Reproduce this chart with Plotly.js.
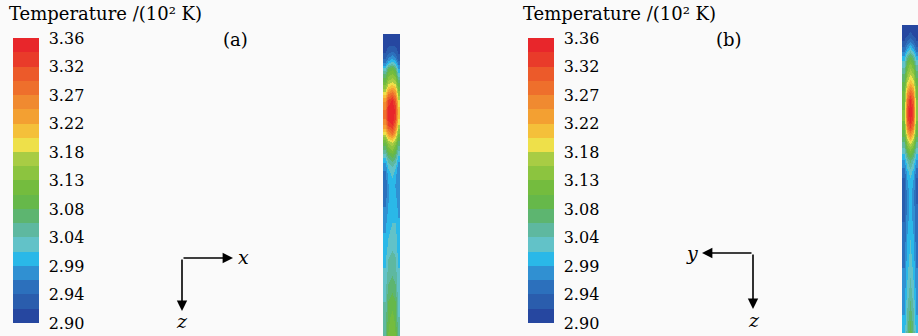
<!DOCTYPE html>
<html>
<head>
<meta charset="utf-8">
<script src="https://cdn.plot.ly/plotly-3.0.1.min.js"></script>
<style>html,body{margin:0;padding:0;background:#fafafa;}#chart{width:918px;height:336px;}</style>
</head>
<body>
<div id="chart"></div>
<script>
// Colour bands of the legend (bottom → top), 20 bands from 2.90 to 3.36 (×10^2 K)
const bandColors = [
  '#2647A0','#2A5DAD','#2C70BC','#3090D2','#2AB8E8',
  '#62C2C8','#5EB8A0','#5DB570','#66B84A','#74BC3E',
  '#8CC43F','#A8CC44','#EEE04A','#F4C03A','#F3A032',
  '#F08A30','#EE6F2C','#EC5A2A','#E93B2A','#E8262B'
];
const tickValues = [2.90, 2.946, 2.992, 3.038, 3.084, 3.13, 3.176, 3.222, 3.268, 3.314, 3.36];
const tickLabels = ['2.90','2.94','2.99','3.04','3.08','3.13','3.18','3.22','3.27','3.32','3.36'];
const colorbarTitle = 'Temperature /(10² K)';
const panelLabels = ['(a)', '(b)'];

// Cross-section columns (edge → centre → edge)
const columnsA = [0, 1, 2, 3, 4];
const columnsB = [0, 1, 2, 3, 4];

// Panel (a): depth positions along z and temperatures
const depthA = [0, 11, 18, 24, 29, 34, 41, 48, 54, 59, 66, 76, 84, 92, 99, 104, 109, 116, 124, 132, 141, 151, 166, 181, 196, 211, 226, 241, 256, 271, 286, 302];
const tempA = [
  [2.91,2.91,2.91,2.91,2.91],
  [2.91,2.92,2.92,2.92,2.91],
  [2.92,2.94,2.95,2.94,2.92],
  [2.94,2.97,2.99,2.97,2.93],
  [2.97,3.01,3.03,3.01,2.96],
  [3.02,3.08,3.10,3.07,2.99],
  [3.07,3.12,3.14,3.12,3.03],
  [3.11,3.16,3.18,3.16,3.08],
  [3.15,3.21,3.23,3.21,3.12],
  [3.19,3.26,3.28,3.25,3.14],
  [3.24,3.32,3.34,3.30,3.18],
  [3.27,3.35,3.36,3.33,3.21],
  [3.27,3.35,3.36,3.32,3.20],
  [3.24,3.31,3.33,3.28,3.17],
  [3.19,3.25,3.28,3.23,3.13],
  [3.14,3.20,3.22,3.18,3.10],
  [3.10,3.15,3.17,3.14,3.07],
  [3.06,3.11,3.13,3.10,3.04],
  [3.01,3.06,3.08,3.06,3.00],
  [2.98,3.02,3.04,3.02,2.98],
  [2.96,3.00,3.02,3.00,2.97],
  [2.95,2.99,3.00,2.99,2.97],
  [2.96,2.99,3.00,3.00,2.98],
  [2.98,3.00,3.01,3.01,2.99],
  [2.99,3.01,3.02,3.02,3.00],
  [3.00,3.02,3.03,3.03,3.00],
  [3.01,3.04,3.05,3.04,3.01],
  [3.02,3.05,3.06,3.05,3.02],
  [3.03,3.07,3.08,3.07,3.02],
  [3.04,3.09,3.10,3.09,3.03],
  [3.05,3.10,3.12,3.10,3.04],
  [3.06,3.11,3.13,3.11,3.05]
];

// Panel (b)
const depthB = [0, 10, 18, 25, 32, 40, 48, 55, 61, 67, 75, 85, 95, 103, 110, 117, 125, 135, 145, 155, 170, 185, 205, 225, 245, 265, 285, 308];
const tempB = [
  [2.91,2.91,2.91,2.91,2.91],
  [2.91,2.92,2.93,2.92,2.91],
  [2.93,2.96,2.98,2.96,2.93],
  [2.96,3.00,3.03,3.00,2.96],
  [3.00,3.06,3.09,3.06,3.00],
  [3.03,3.11,3.14,3.11,3.04],
  [3.06,3.14,3.17,3.15,3.07],
  [3.08,3.17,3.20,3.18,3.09],
  [3.10,3.20,3.24,3.21,3.11],
  [3.11,3.24,3.29,3.25,3.12],
  [3.12,3.28,3.34,3.29,3.13],
  [3.13,3.31,3.36,3.31,3.13],
  [3.13,3.30,3.35,3.30,3.13],
  [3.11,3.26,3.31,3.26,3.11],
  [3.09,3.20,3.25,3.20,3.09],
  [3.06,3.15,3.19,3.15,3.06],
  [3.03,3.10,3.13,3.10,3.03],
  [2.99,3.04,3.07,3.04,2.99],
  [2.96,3.01,3.03,3.01,2.96],
  [2.94,2.99,3.01,2.99,2.94],
  [2.94,2.98,3.00,2.98,2.94],
  [2.94,2.98,3.00,2.98,2.95],
  [2.95,2.99,3.01,2.99,2.95],
  [2.96,3.00,3.02,3.00,2.96],
  [2.97,3.01,3.03,3.01,2.97],
  [2.98,3.02,3.05,3.02,2.98],
  [2.99,3.04,3.07,3.04,2.99],
  [3.00,3.06,3.10,3.06,3.00]
];

const zMin = 2.90, zMax = 3.36;
const W = 918, H = 336;

const scale = [];
bandColors.forEach((c, i) => {
  scale.push([i / bandColors.length, c]);
  scale.push([(i + 1) / bandColors.length, c]);
});

function colorbar(xpx) {
  return {
    x: xpx / W, xanchor: 'left', xpad: 0,
    y: 1 - 38 / H, yanchor: 'top', ypad: 0,
    len: 285, lenmode: 'pixels',
    thickness: 26, thicknessmode: 'pixels',
    outlinewidth: 0,
    tickmode: 'array', tickvals: tickValues, ticktext: tickLabels,
    ticks: 'outside', ticklen: 7, tickcolor: 'rgba(0,0,0,0)',
    tickfont: {family: 'DejaVu Serif', size: 16, color: '#000'}
  };
}

const data = [
  {type: 'heatmap', x: columnsA, y: depthA, z: tempA, zsmooth: 'best',
   coloraxis: 'coloraxis', xaxis: 'x', yaxis: 'y', hoverinfo: 'skip'},
  {type: 'heatmap', x: columnsB, y: depthB, z: tempB, zsmooth: 'best',
   coloraxis: 'coloraxis2', xaxis: 'x2', yaxis: 'y2', hoverinfo: 'skip'}
];

const hidden = {visible: false, showgrid: false, zeroline: false, fixedrange: true};

const font = {family: 'DejaVu Serif', size: 18, color: '#000'};
const italic = {family: 'DejaVu Serif', size: 19, color: '#000'};

function arrow(tipx, tipy, ax, ay) {
  return {xref: 'paper', yref: 'paper', x: tipx / W, y: 1 - tipy / H,
    ax: ax, ay: ay, axref: 'pixel', ayref: 'pixel', text: '', showarrow: true,
    arrowhead: 2, arrowsize: 1.3, arrowwidth: 1.6, arrowcolor: '#000'};
}
function label(text, px, py, f, anchor) {
  return {xref: 'paper', yref: 'paper', x: px / W, y: 1 - py / H, text: text,
    showarrow: false, xanchor: anchor || 'center', yanchor: 'middle', font: f};
}

const layout = {
  width: W, height: H,
  margin: {l: 0, r: 0, t: 0, b: 0},
  paper_bgcolor: '#fafafa', plot_bgcolor: '#fafafa',
  showlegend: false,
  xaxis: Object.assign({domain: [383 / W, 400 / W], range: [-0.5, 4.5], anchor: 'y'}, hidden),
  yaxis: Object.assign({domain: [0, 1 - 34 / H], range: [302, 0], anchor: 'x'}, hidden),
  xaxis2: Object.assign({domain: [902 / W, 1], range: [-0.5, 4.5], anchor: 'y2'}, hidden),
  yaxis2: Object.assign({domain: [3 / H, 1 - 25 / H], range: [308, 0], anchor: 'x2'}, hidden),
  coloraxis: {cmin: zMin, cmax: zMax, colorscale: scale, colorbar: colorbar(13)},
  coloraxis2: {cmin: zMin, cmax: zMax, colorscale: scale, colorbar: colorbar(528)},
  annotations: [
    label(colorbarTitle, 7, 14, font, 'left'),
    label(colorbarTitle, 521, 14, font, 'left'),
    label(panelLabels[0], 235, 39, font),
    label(panelLabels[1], 729, 39, font),
    arrow(233, 258, -51, 0),
    arrow(182, 311, 0, -53),
    label('<i>x</i>', 243, 257, italic),
    label('<i>z</i>', 182, 321, italic),
    arrow(702, 253, 51, 0),
    arrow(753, 309, 0, -56),
    label('<i>y</i>', 692, 253, italic),
    label('<i>z</i>', 754, 320, italic)
  ]
};

Plotly.newPlot('chart', data, layout, {staticPlot: true, displayModeBar: false});
</script>
</body>
</html>
